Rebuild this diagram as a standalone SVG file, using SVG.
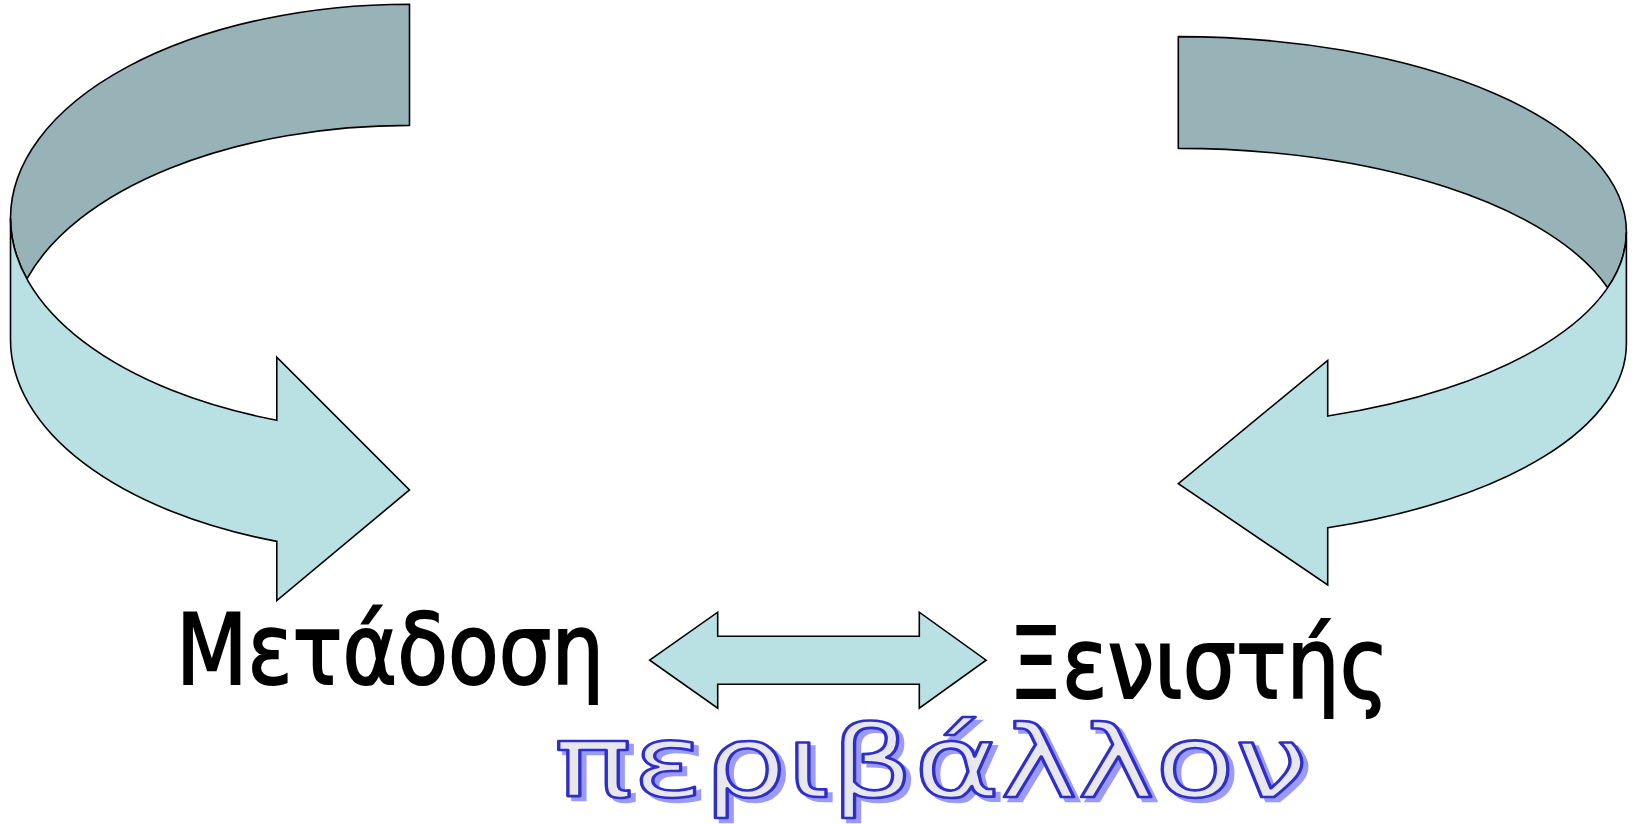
<svg xmlns="http://www.w3.org/2000/svg" width="1638" height="824" viewBox="0 0 1638 824">
<style>
.back{fill:#97B3B7;stroke:#000;stroke-width:1.6;stroke-linejoin:round}
.front{fill:#B9E0E3;stroke:#000;stroke-width:1.6;stroke-linejoin:miter}
.lbl{font-family:"DejaVu Sans","Noto Sans",sans-serif;font-size:98px;fill:#000;stroke:#000;stroke-width:2}
.wa{font-family:"DejaVu Sans","Verdana",sans-serif;font-size:100px}
.wa-shadow{fill:#9B9BF5;stroke:#9B9BF5;stroke-width:2.5}
.wa-main{fill:#E8E8EC;stroke:#2E2ECC;stroke-width:2.6;stroke-linejoin:round}
</style>
<rect width="1638" height="824" fill="#fff"/>
<g id="left-arrow">
<path class="back" d="M409.5,4.2 A399,214.1 0 0 0 10.5,218.3 A399,214.1 0 0 0 26.9,278.9 A399,214.1 0 0 1 409.5,125.4 Z"/>
<path class="front" d="M10.5,218.3 A399,214.1 0 0 0 276.8,420.2 L276.8,357.3 L409.5,489.9 L276.8,600.6 L276.8,541.4 A399,214.1 0 0 1 10.5,339.5 Z"/>
</g>
<g id="right-arrow">
<path class="back" d="M1178.3,36.6 A448.1,195.3 0 0 1 1626.4,231.9 A448.1,195.3 0 0 1 1607.7,287.8 A448.1,195.3 0 0 0 1178.3,148.4 Z"/>
<path class="front" d="M1626.4,231.9 A448.1,195.3 0 0 1 1327.7,416 L1327.7,360.4 L1178.3,483.6 L1327.7,585 L1327.7,527.8 A448.1,195.3 0 0 0 1626.4,343.7 Z"/>
</g>
<g id="connectors">
<path class="front" d="M649.7,660.2 L717.7,612.2 L717.7,636.2 L919.3,636.2 L919.3,612.2 L986.1,660.2 L919.3,708.2 L919.3,684.2 L717.7,684.2 L717.7,708.2 Z"/>
</g>
<g id="node-metadosi">
<text class="lbl" x="176" y="684" textLength="428" lengthAdjust="spacingAndGlyphs">Μετάδοση</text>
</g>
<g id="node-xenistis">
<text class="lbl" x="1009" y="698" textLength="380" lengthAdjust="spacingAndGlyphs">Ξενιστής</text>
</g>
<g id="node-perivallon">
<text class="wa wa-shadow" x="559" y="801" textLength="754" lengthAdjust="spacingAndGlyphs">περιβάλλον</text>
<text class="wa wa-main" x="554" y="797" textLength="754" lengthAdjust="spacingAndGlyphs">περιβάλλον</text>
</g>
</svg>
